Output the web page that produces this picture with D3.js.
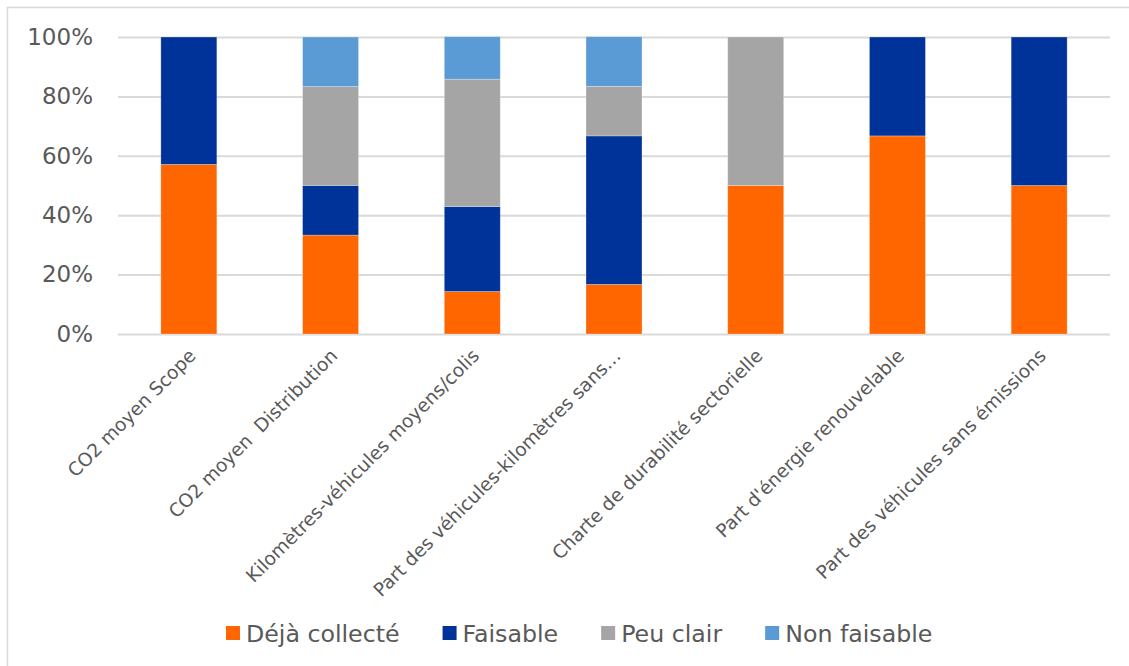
<!DOCTYPE html>
<html>
<head>
<meta charset="utf-8">
<script src="https://cdn.jsdelivr.net/npm/d3@7"></script>
<style>
  html, body { margin: 0; padding: 0; background: #fff; }
  svg { display: block; }
  text { font-family: "DejaVu Sans", Verdana, sans-serif; fill: #595959; white-space: pre; }
</style>
</head>
<body>
<svg id="chart" width="1129" height="666"></svg>
<script>
// Indicator categories (x axis)
const categories = [
  "CO2 moyen Scope",
  "CO2 moyen  Distribution",
  "Kilomètres-véhicules moyens/colis",
  "Part des véhicules-kilomètres sans…",
  "Charte de durabilité sectorielle",
  "Part d'énergie renouvelable",
  "Part des véhicules sans émissions"
];

// Share of respondents per answer, in percent
const dejaCollecte = [57.1, 33.3, 14.3, 16.7, 50.0, 66.7, 50.0];
const faisable     = [42.9, 16.7, 28.6, 50.0,  0.0, 33.3, 50.0];
const peuClair     = [ 0.0, 33.3, 42.9, 16.7, 50.0,  0.0,  0.0];
const nonFaisable  = [ 0.0, 16.7, 14.3, 16.7,  0.0,  0.0,  0.0];

const seriesNames  = ["Déjà collecté", "Faisable", "Peu clair", "Non faisable"];
const seriesColors = ["#FF6600", "#003399", "#A5A5A5", "#5B9BD5"];
const yTicks = [0, 20, 40, 60, 80, 100];

const svg = d3.select("#chart");

// outer chart frame
svg.append("rect")
  .attr("x", 7.5).attr("y", 7.5)
  .attr("width", 1140).attr("height", 680)
  .attr("fill", "none").attr("stroke", "#d9d9d9").attr("stroke-width", 1.5);

const plot = { left: 118, right: 1110, top: 37, bottom: 334 };

const x = d3.scaleBand()
  .domain(categories)
  .range([plot.left, plot.right])
  .paddingInner(0.605)
  .paddingOuter(0.3025);

const y = d3.scaleLinear()
  .domain([0, 100])
  .range([plot.bottom, plot.top]);

// horizontal gridlines + y tick labels
const yAxis = d3.axisLeft(y)
  .tickValues(yTicks)
  .tickFormat(d => d + "%")
  .tickSize(-(plot.right - plot.left))
  .tickPadding(25);

const gy = svg.append("g")
  .attr("transform", `translate(${plot.left},0)`)
  .call(yAxis);
gy.select(".domain").remove();
gy.selectAll(".tick line").attr("stroke", "#d9d9d9").attr("stroke-width", 2);
gy.selectAll(".tick text")
  .attr("font-size", 23)
  .attr("fill", "#595959")
  .style("font-family", "'DejaVu Sans', Verdana, sans-serif");

// stacked data
const rows = categories.map((c, i) => ({
  cat: c,
  "Déjà collecté": dejaCollecte[i],
  "Faisable": faisable[i],
  "Peu clair": peuClair[i],
  "Non faisable": nonFaisable[i]
}));
const stacked = d3.stack().keys(seriesNames)(rows);
const color = d3.scaleOrdinal().domain(seriesNames).range(seriesColors);

svg.append("g").selectAll("g")
  .data(stacked)
  .join("g")
  .attr("fill", d => color(d.key))
  .selectAll("rect")
  .data(d => d.filter(p => p[1] - p[0] > 0))
  .join("rect")
  .attr("x", d => x(d.data.cat))
  .attr("width", x.bandwidth())
  .attr("y", d => y(d[1]))
  .attr("height", d => y(d[0]) - y(d[1]))
  .attr("stroke", "#ffffff")
  .attr("stroke-opacity", 0.35)
  .attr("stroke-width", 0.75);

// category labels, rotated
const xAxis = d3.axisBottom(x).tickSize(0).tickPadding(0);
const gx = svg.append("g")
  .attr("transform", `translate(0,${plot.bottom})`)
  .call(xAxis);
gx.select(".domain").remove();
gx.selectAll(".tick text")
  .attr("font-size", 18.6)
  .attr("fill", "#595959")
  .style("font-family", "'DejaVu Sans', Verdana, sans-serif")
  .style("white-space", "pre")
  .attr("text-anchor", "end")
  .attr("dy", 0)
  .attr("y", 0)
  .attr("transform", "translate(8,23) rotate(-45)");

// legend
const legend = svg.append("g").attr("transform", "translate(226,633)");
let lx = 0;
seriesNames.forEach((name, i) => {
  const item = legend.append("g").attr("transform", `translate(${lx},0)`);
  item.append("rect")
    .attr("x", 0).attr("y", -7)
    .attr("width", 14).attr("height", 14)
    .attr("fill", seriesColors[i]);
  const t = item.append("text")
    .attr("x", 20).attr("y", 0)
    .attr("dy", "0.36em")
    .attr("font-size", 23.7)
    .text(name);
  lx += 20 + t.node().getComputedTextLength() + 43;
});
</script>
</body>
</html>
